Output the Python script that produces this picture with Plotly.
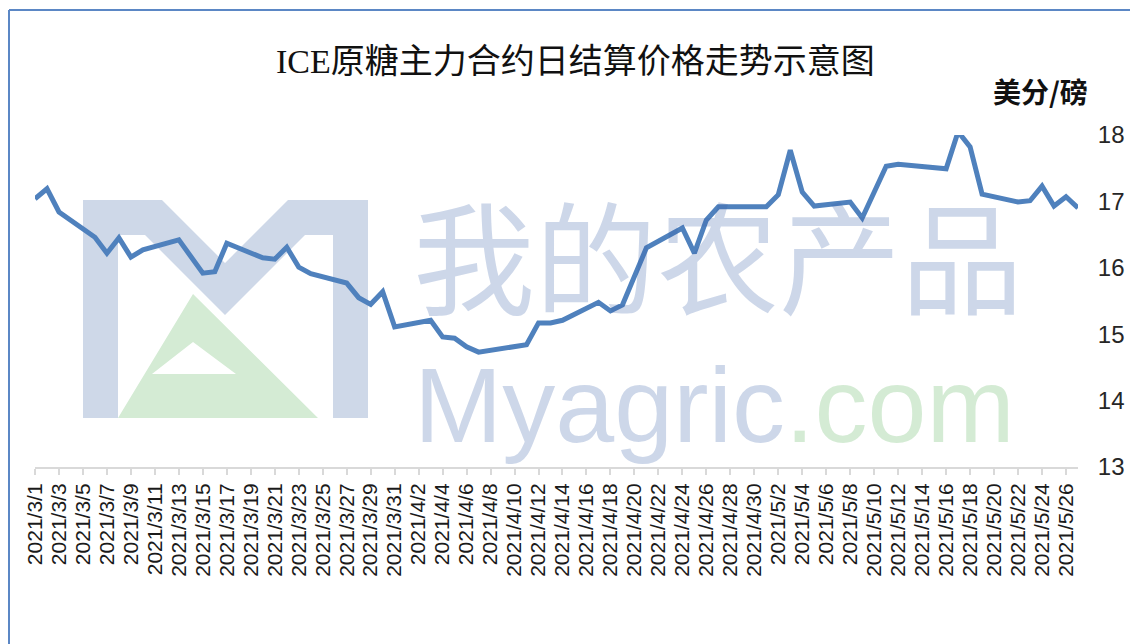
import plotly.graph_objects as go

# ---- data ----
dates = [
    "2021-03-01", "2021-03-02", "2021-03-03", "2021-03-06", "2021-03-07", "2021-03-08",
    "2021-03-09", "2021-03-10", "2021-03-13", "2021-03-15", "2021-03-16", "2021-03-17",
    "2021-03-20", "2021-03-21", "2021-03-22", "2021-03-23", "2021-03-24", "2021-03-27",
    "2021-03-28", "2021-03-29", "2021-03-30", "2021-03-31", "2021-04-03", "2021-04-04",
    "2021-04-05", "2021-04-06", "2021-04-07", "2021-04-11", "2021-04-12", "2021-04-13",
    "2021-04-14", "2021-04-17", "2021-04-18", "2021-04-19", "2021-04-21", "2021-04-24",
    "2021-04-25", "2021-04-26", "2021-04-27", "2021-05-01", "2021-05-02", "2021-05-03",
    "2021-05-04", "2021-05-05", "2021-05-08", "2021-05-09", "2021-05-11", "2021-05-12",
    "2021-05-16", "2021-05-17", "2021-05-18", "2021-05-19", "2021-05-22", "2021-05-23",
    "2021-05-24", "2021-05-25", "2021-05-26", "2021-05-27",
]
prices = [
    17.04, 17.19, 16.84, 16.46, 16.22, 16.45,
    16.16, 16.27, 16.42, 15.92, 15.94, 16.37,
    16.15, 16.13, 16.31, 16.01, 15.91, 15.77,
    15.55, 15.45, 15.64, 15.11, 15.21, 14.96,
    14.94, 14.81, 14.73, 14.84, 15.17, 15.17,
    15.21, 15.48, 15.35, 15.44, 16.30, 16.60,
    16.22, 16.72, 16.92, 16.92, 17.10, 17.77,
    17.14, 16.93, 16.99, 16.75, 17.53, 17.56,
    17.49, 18.05, 17.82, 17.11, 16.99, 17.01,
    17.23, 16.93, 17.07, 16.90,
]
title_text = "ICE原糖主力合约日结算价格走势示意图"
unit_text = "美分/磅"
watermark_cn = "我的农产品"
watermark_en = "Myagric"
watermark_dom = ".com"
y_ticks = [13, 14, 15, 16, 17, 18]
x_start, x_end = "2021-03-01", "2021-05-27"

# ---- layout geometry ----
# the page places the plot 8px from the window's top-left corner (body margin)
OFF = 8
W, H = 1138 - OFF, 644 - OFF
PW, PH = 1043, 332
L, T = 35 - OFF, 135 - OFF
R, B = W - L - PW, H - T - PH


def px(x):  # window pixel x -> paper x
    return (x - OFF - L) / PW


def py(y):  # window pixel y -> paper y
    return (H - B - (y - OFF)) / PH


def poly(points):
    return "M " + " L ".join(f"{px(a):.5f},{py(b):.5f}" for a, b in points) + " Z"


fig = go.Figure()
fig.add_trace(go.Scatter(
    x=dates, y=prices, mode="lines",
    line=dict(color="#4f81bd", width=5),
    hoverinfo="x+y", showlegend=False,
))

wm_blue = "rgb(206,216,232)"
wm_green = "rgb(212,235,212)"

m_logo = [(83, 418), (83, 200), (162, 200), (225, 263), (288, 200), (368, 200),
          (368, 418), (333, 418), (333, 235), (305, 235), (225, 315), (145, 235),
          (118, 235), (118, 418)]
green_outer = [(118, 418), (193, 294), (318, 418)]
green_inner = [(152, 374), (193, 342), (236, 374)]

shapes = [
    dict(type="path", xref="paper", yref="paper", path=poly(m_logo),
         fillcolor=wm_blue, line=dict(width=0), layer="below"),
    dict(type="path", xref="paper", yref="paper",
         path=poly(green_outer) + " " + poly(green_inner), fillrule="evenodd",
         fillcolor=wm_green, line=dict(width=0), layer="below"),
    # outer frame (top and left edges visible)
    dict(type="line", xref="paper", yref="paper", x0=px(9), x1=px(1145), y0=py(10), y1=py(10),
         line=dict(color="#5b87c5", width=2)),
    dict(type="line", xref="paper", yref="paper", x0=px(9), x1=px(9), y0=py(10), y1=py(650),
         line=dict(color="#5b87c5", width=2)),
]

annotations = [
    dict(text=title_text, xref="paper", yref="paper", x=px(575), y=py(62),
         xanchor="center", yanchor="middle", showarrow=False,
         font=dict(family="Liberation Serif, Noto Sans CJK SC", size=34, color="#111")),
    dict(text=f"<b>{unit_text}</b>", xref="paper", yref="paper", x=px(1040), y=py(91),
         xanchor="center", yanchor="middle", showarrow=False,
         font=dict(family="Noto Sans CJK SC", size=28, color="#111")),
    dict(text=watermark_cn, xref="paper", yref="paper", x=px(718), y=py(342),
         xanchor="center", yanchor="bottom", showarrow=False,
         font=dict(family="Noto Sans CJK SC", size=122, color="rgba(60,100,170,0.26)")),
    dict(text=f"{watermark_en}<span style='color:rgb(90,178,90)'>{watermark_dom}</span>",
         xref="paper", yref="paper", x=px(714), y=py(344),
         xanchor="center", yanchor="top", showarrow=False,
         font=dict(family="Liberation Sans, Arial", size=106, color="rgba(60,100,170,0.26)")),
]

fig.update_layout(
    width=W, height=H,
    margin=dict(l=L, r=R, t=T, b=B, pad=0),
    paper_bgcolor="white", plot_bgcolor="rgba(0,0,0,0)",
    shapes=shapes, annotations=annotations,
    showlegend=False,
)
fig.update_xaxes(
    type="date", range=[x_start, x_end],
    tick0=x_start, dtick=2 * 86400000, tickformat="%Y/%-m/%-d",
    tickangle=-90, ticks="outside", ticklen=6, tickcolor="#d9d9d9", tickwidth=1.5,
    showline=True, linecolor="#d9d9d9", linewidth=2,
    showgrid=False, zeroline=False,
    tickfont=dict(family="Liberation Sans, Arial", size=21, color="#1a1a1a"),
)
fig.update_yaxes(
    side="right", range=[13, 18], tickvals=y_ticks,
    ticks="outside", ticklen=14, tickcolor="rgba(0,0,0,0)",
    showline=False, showgrid=False, zeroline=False,
    tickfont=dict(family="Liberation Sans, Arial", size=24, color="#262626"),
)

fig.write_html("out.html")
